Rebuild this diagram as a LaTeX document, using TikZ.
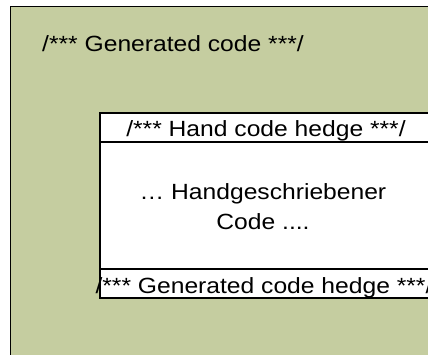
\documentclass[tikz,border=0pt]{standalone}
\usepackage{fontspec}
\setmainfont{Liberation Sans}
\definecolor{gencode}{RGB}{197,205,160}
\begin{document}
\begin{tikzpicture}[x=1pt,y=-1pt]
        \useasboundingbox (0,0) rectangle (428,355);
        \clip (0,0) rectangle (428,355);

        % generated area and the hand written box
        \draw[fill=gencode, line width=1pt] (10,7) rectangle (440,370);
        \draw[fill=white, line width=1.2pt] (100,113) rectangle (434,298);
        \draw[line width=1.2pt] (100,142) -- (434,142);
        \draw[line width=1.2pt] (100,269) -- (434,269);

        \begin{scope}[every node/.style={font=\fontsize{22}{30}\selectfont, xscale=1.12, inner sep=0pt}]
          \node[anchor=base west] (gen)      at (42,52)   {/*** Generated code ***/};
          \node[anchor=base]      (hedgein)  at (266,137) {/*** Hand code hedge ***/};
          \node[align=center]     (hand)     at (263,207) {… Handgeschriebener\\Code ....};
          \node[anchor=base]      (hedgeout) at (264,293) {/*** Generated code hedge ***/};
        \end{scope}

      \end{tikzpicture}
\end{document}
